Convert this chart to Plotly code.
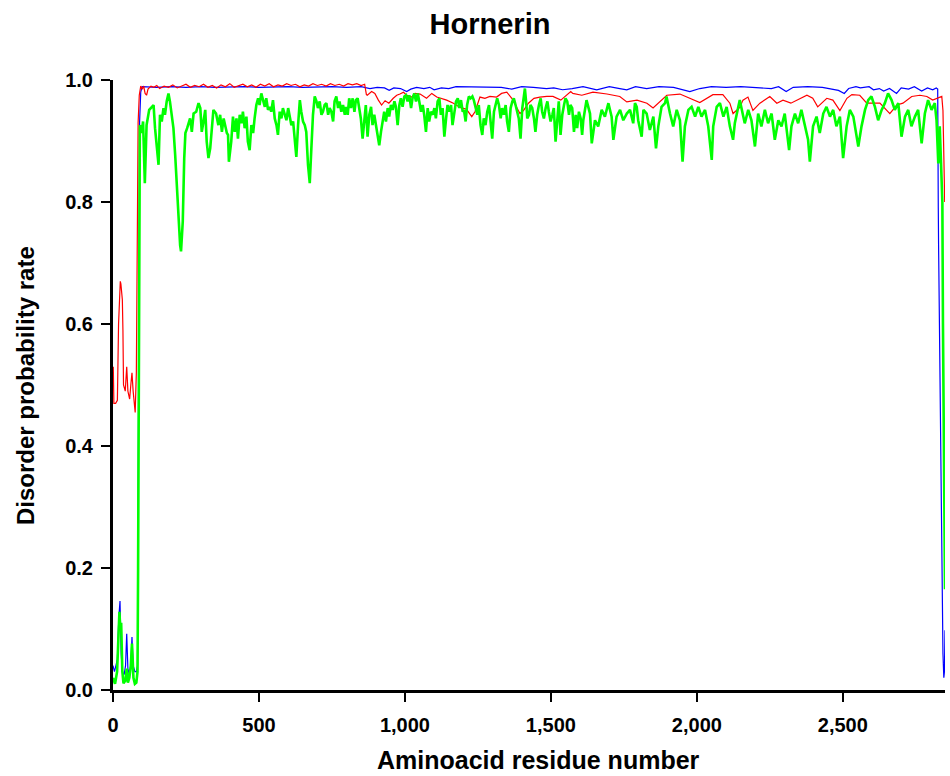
import plotly.graph_objects as go

# ---------------- data ----------------
green_x = [0, 7, 14, 18, 22, 25, 28, 32, 36, 42, 47, 51, 56, 61, 65, 70, 75, 80, 84, 86, 88, 90,
           92, 98, 103, 109, 115, 124, 133, 139, 144, 150, 156, 161, 167, 173, 178, 184, 190, 195,
           201, 207, 213, 218, 224, 230, 233, 239, 244, 248, 254, 264, 270, 276, 285, 293, 299, 304,
           310, 316, 321, 327, 333, 339, 344, 353, 361, 367, 373, 379, 390,
           394, 397, 405, 411, 417, 423, 428, 434, 440, 445, 451, 457, 462, 468, 474, 480, 485, 491,
           497, 502, 508, 514, 520, 525, 531, 537, 542, 548, 554, 560, 565, 571, 577, 582, 588, 594,
           600, 605, 611, 617, 622, 628, 634, 640, 645, 651, 657, 662, 668, 674, 679, 685, 691, 697,
           702, 708, 714, 719, 725, 731, 737, 742, 748, 754, 759, 765, 771, 776, 782, 788, 794,
           798, 804, 809, 815, 821, 827, 832, 838, 844, 849, 855, 861, 866, 872, 878, 884, 889, 895,
           901, 906, 912, 918, 924, 929, 935, 941, 946, 952, 958, 964, 969, 975, 981, 986, 992, 998,
           1004, 1009, 1015, 1021, 1026, 1032, 1038, 1044, 1049, 1055, 1061, 1066, 1072, 1078, 1083,
           1089, 1095, 1101, 1106, 1112, 1118, 1123, 1129, 1135, 1141, 1146, 1152, 1158, 1163, 1169,
           1175, 1181, 1186, 1192, 1198,
           1202, 1208, 1213, 1219, 1225, 1231, 1236, 1242, 1248, 1253, 1259, 1265, 1270, 1276, 1282,
           1288, 1293, 1299, 1305, 1310, 1316, 1322, 1328, 1333, 1339, 1345, 1350, 1356, 1362, 1368,
           1373, 1379, 1385, 1390, 1396, 1402, 1408, 1411, 1417, 1419, 1425, 1430, 1436, 1442, 1447,
           1453, 1459, 1465, 1470, 1476, 1482, 1488, 1493, 1499, 1505, 1510, 1516, 1522, 1527, 1533,
           1539, 1545, 1550, 1556, 1562, 1567, 1573, 1579, 1585, 1590, 1596, 1602, 1607,
           1611, 1622, 1634, 1640, 1651, 1662, 1674, 1685, 1697, 1708, 1714, 1725, 1737, 1748, 1760,
           1771, 1782, 1788, 1794, 1799, 1811, 1817, 1828, 1839, 1851, 1860, 1868, 1879, 1891, 1896,
           1908, 1919, 1931, 1942, 1951, 1959, 1971, 1982, 1994, 2005, 2016, 2028, 2039, 2051, 2056,
           2068, 2079, 2091, 2102, 2113, 2124, 2130, 2142, 2147, 2159, 2164, 2176, 2187, 2199, 2210,
           2221, 2233, 2244, 2256, 2267, 2279, 2290, 2301, 2316, 2324, 2336, 2347, 2358, 2370, 2381,
           2387, 2398, 2410, 2421, 2433, 2444, 2456, 2467, 2478, 2490, 2501, 2513, 2524, 2536, 2553,
           2564, 2576, 2587, 2598, 2610, 2621, 2633, 2644, 2655, 2667, 2678, 2690, 2701, 2713, 2724,
           2735, 2747, 2758, 2770, 2781, 2792, 2804, 2815, 2821, 2827, 2832, 2838, 2841, 2843, 2845,
           2847, 2849, 2850]
green_y = [0.02, 0.01, 0.03, 0.08, 0.128, 0.10, 0.11, 0.03, 0.011, 0.015, 0.035, 0.012, 0.02, 0.04,
           0.076, 0.02, 0.01, 0.012, 0.03, 0.20, 0.60, 0.88,
           0.926, 0.913, 0.932, 0.831, 0.926, 0.951, 0.956, 0.959, 0.921, 0.896, 0.861, 0.943, 0.932,
           0.954, 0.943, 0.965, 0.978, 0.965, 0.943, 0.921, 0.877, 0.828, 0.773, 0.729, 0.719, 0.768,
           0.872, 0.913, 0.921, 0.937, 0.915, 0.945, 0.948, 0.962, 0.954, 0.915, 0.932, 0.951, 0.899,
           0.872, 0.888, 0.932, 0.951, 0.945, 0.926, 0.943, 0.915, 0.937, 0.913,
           0.910, 0.866, 0.899, 0.940, 0.915, 0.937, 0.904, 0.943, 0.929, 0.948, 0.921, 0.940, 0.899,
           0.885, 0.926, 0.913, 0.937, 0.959, 0.970, 0.959, 0.978, 0.965, 0.956, 0.970, 0.951, 0.956,
           0.948, 0.967, 0.937, 0.926, 0.910, 0.948, 0.937, 0.954, 0.945, 0.934, 0.954, 0.943, 0.926,
           0.932, 0.899, 0.874, 0.926, 0.967, 0.948, 0.932, 0.926, 0.915, 0.861, 0.831, 0.883, 0.943,
           0.973, 0.965, 0.954, 0.965, 0.943, 0.948, 0.959, 0.962, 0.943, 0.954, 0.948, 0.932, 0.965,
           0.973, 0.954, 0.965, 0.948, 0.959, 0.943,
           0.956, 0.943, 0.970, 0.954, 0.970, 0.948, 0.967, 0.970, 0.951, 0.937, 0.904, 0.932, 0.959,
           0.907, 0.943, 0.956, 0.926, 0.943, 0.926, 0.907, 0.893, 0.915, 0.937, 0.948, 0.932, 0.954,
           0.940, 0.959, 0.951, 0.965, 0.956, 0.926, 0.959, 0.970, 0.956, 0.973, 0.975, 0.965, 0.975,
           0.954, 0.970, 0.978, 0.965, 0.978, 0.965, 0.948, 0.959, 0.943, 0.915, 0.954, 0.932, 0.948,
           0.943, 0.954, 0.937, 0.965, 0.970, 0.943, 0.954, 0.907, 0.937, 0.959, 0.948, 0.959, 0.926,
           0.948, 0.965, 0.970, 0.954, 0.967, 0.948,
           0.951, 0.932, 0.959, 0.973, 0.970, 0.973, 0.967, 0.954, 0.943, 0.959, 0.926, 0.910, 0.937,
           0.926, 0.948, 0.959, 0.937, 0.904, 0.948, 0.959, 0.970, 0.959, 0.937, 0.954, 0.943, 0.959,
           0.932, 0.915, 0.954, 0.965, 0.970, 0.959, 0.948, 0.937, 0.904, 0.954, 0.975, 0.986, 0.954,
           0.937, 0.943, 0.959, 0.954, 0.937, 0.915, 0.943, 0.959, 0.970, 0.948, 0.937, 0.954, 0.965,
           0.948, 0.932, 0.943, 0.954, 0.899, 0.937, 0.965, 0.910, 0.943, 0.959, 0.970, 0.965, 0.943,
           0.959, 0.954, 0.915, 0.943, 0.921, 0.948, 0.937, 0.910,
           0.934, 0.967, 0.945, 0.896, 0.934, 0.924, 0.951, 0.940, 0.962, 0.940, 0.902, 0.940, 0.951,
           0.934, 0.945, 0.951, 0.929, 0.962, 0.956, 0.934, 0.907, 0.951, 0.945, 0.918, 0.940, 0.888,
           0.924, 0.956, 0.962, 0.973, 0.945, 0.924, 0.951, 0.934, 0.866, 0.924, 0.951, 0.956, 0.940,
           0.956, 0.940, 0.951, 0.924, 0.869, 0.924, 0.956, 0.962, 0.940, 0.956, 0.924, 0.902, 0.929,
           0.956, 0.967, 0.940, 0.929, 0.951, 0.934, 0.891, 0.945, 0.924, 0.951, 0.929, 0.945, 0.902,
           0.934, 0.924, 0.945, 0.885, 0.924, 0.945, 0.929, 0.951, 0.924, 0.902, 0.866, 0.924, 0.940,
           0.913, 0.945, 0.956, 0.940, 0.951, 0.924, 0.940, 0.872, 0.924, 0.951, 0.940, 0.891, 0.924,
           0.951, 0.967, 0.973, 0.956, 0.934, 0.951, 0.962, 0.978, 0.967, 0.951, 0.962, 0.907, 0.940,
           0.951, 0.924, 0.940, 0.951, 0.896, 0.945, 0.967, 0.951, 0.962, 0.934, 0.863, 0.924, 0.853,
           0.80, 0.60, 0.45, 0.35, 0.20, 0.165]

red_x = [1, 3, 9, 15, 19, 22, 25, 27, 29, 32, 34, 36, 42, 47, 51, 57, 61, 65, 69, 76, 80, 83, 86,
         90, 95, 100, 105, 110, 115, 120, 130, 140, 150, 160, 175, 190, 205, 220, 235, 250, 265, 280,
         295, 310, 325, 340, 355, 370, 385, 400, 415, 430, 445, 460, 475, 490, 505, 520, 535, 550,
         565, 580, 595, 610, 625, 640, 655, 670, 685, 700, 715, 730, 745, 760, 775, 790, 805, 820,
         835, 850, 862, 868, 871, 886, 897, 909, 920, 932, 945, 960, 972, 983, 995, 1006, 1023, 1035,
         1052, 1074, 1092, 1109, 1132, 1143, 1166, 1189, 1211, 1229, 1240, 1257, 1274, 1291, 1314,
         1331, 1349, 1366, 1383, 1394, 1406, 1423, 1442, 1462, 1486, 1507, 1534, 1541, 1568, 1575,
         1606, 1644, 1692, 1736, 1760, 1795, 1829, 1850, 1875, 1897, 1942, 1976, 2010, 2055, 2089,
         2113, 2124, 2147, 2158, 2175, 2192, 2216, 2250, 2274, 2295, 2322, 2353, 2377, 2397, 2414,
         2445, 2466, 2490, 2514, 2531, 2558, 2582, 2627, 2661, 2685, 2706, 2736, 2764, 2788, 2808,
         2826, 2839, 2843, 2845, 2847, 2849, 2850]
red_y = [0.53, 0.47, 0.47, 0.475, 0.60, 0.65, 0.67, 0.666, 0.645, 0.64, 0.59, 0.50, 0.49, 0.53, 0.49,
         0.477, 0.50, 0.52, 0.49, 0.455, 0.52, 0.75, 0.93,
         0.975, 0.99, 0.985, 0.99, 0.978, 0.975, 0.985, 0.99, 0.988, 0.991, 0.986, 0.99, 0.988, 0.992,
         0.987, 0.99, 0.993, 0.988, 0.991, 0.989, 0.993, 0.988, 0.991, 0.987, 0.992, 0.989, 0.994,
         0.988, 0.991, 0.993, 0.989, 0.992, 0.988, 0.993, 0.99, 0.994, 0.989, 0.992, 0.99, 0.994,
         0.991, 0.993, 0.989, 0.992, 0.99, 0.994, 0.991, 0.993, 0.99, 0.994, 0.991, 0.993, 0.99,
         0.994, 0.992, 0.994, 0.991, 0.993, 0.976, 0.975, 0.981, 0.978, 0.967, 0.959, 0.966, 0.962,
         0.97, 0.975, 0.977, 0.98, 0.975, 0.972, 0.978, 0.977, 0.97, 0.978, 0.972, 0.969, 0.967,
         0.962, 0.955, 0.952, 0.94, 0.948, 0.972, 0.97, 0.973, 0.972, 0.978, 0.98, 0.97, 0.955, 0.945,
         0.95, 0.962, 0.97, 0.972, 0.973, 0.973, 0.967, 0.97, 0.981, 0.978, 0.975, 0.98, 0.977, 0.973,
         0.964, 0.967, 0.962, 0.954, 0.965, 0.975, 0.977, 0.97, 0.963, 0.976, 0.976, 0.962, 0.945,
         0.955, 0.967, 0.972, 0.95, 0.962, 0.973, 0.962, 0.967, 0.962, 0.97, 0.975, 0.97, 0.956, 0.97,
         0.967, 0.95, 0.97, 0.976, 0.975, 0.962, 0.962, 0.945, 0.959, 0.962, 0.973, 0.975, 0.973,
         0.967, 0.97, 0.973, 0.95, 0.90, 0.84, 0.80, 0.81]

blue_x = [0, 5, 10, 15, 20, 24, 28, 32, 38, 43, 47, 51, 56, 61, 65, 69, 75, 80, 84, 86, 88, 91, 95,
          100, 150, 200, 250, 300, 350, 400, 450, 500, 550, 600, 650, 700, 750, 800, 850, 880, 905,
          930, 946, 962, 985, 1006, 1020, 1040, 1065, 1085, 1100, 1125, 1150, 1175, 1210, 1250, 1290,
          1330, 1366, 1400, 1440, 1485, 1510, 1540, 1573, 1610, 1657, 1700, 1736, 1760, 1790, 1828,
          1870, 1920, 1976, 2010, 2050, 2100, 2150, 2200, 2255, 2280, 2306, 2330, 2380, 2430, 2465,
          2485, 2505, 2520, 2545, 2560, 2590, 2605, 2625, 2640, 2660, 2684, 2700, 2725, 2745, 2770,
          2790, 2808, 2820, 2825, 2827, 2828, 2843, 2846, 2848, 2850]
blue_y = [0.04, 0.03, 0.04, 0.05, 0.12, 0.146, 0.06, 0.03, 0.025, 0.04, 0.092, 0.035, 0.025, 0.04,
          0.087, 0.04, 0.03, 0.03, 0.04, 0.30, 0.70, 0.93, 0.98,
          0.989, 0.988, 0.989, 0.988, 0.989, 0.988, 0.989, 0.989, 0.988, 0.989, 0.989, 0.988, 0.989,
          0.989, 0.988, 0.989, 0.986, 0.988, 0.987, 0.983, 0.987, 0.986, 0.981, 0.985, 0.988, 0.986,
          0.988, 0.984, 0.987, 0.986, 0.989, 0.989, 0.988, 0.989, 0.988, 0.985, 0.989, 0.988, 0.986,
          0.987, 0.984, 0.986, 0.989, 0.984, 0.989, 0.986, 0.984, 0.989, 0.986, 0.989, 0.988, 0.981,
          0.986, 0.989, 0.988, 0.989, 0.988, 0.986, 0.989, 0.981, 0.988, 0.989, 0.988, 0.985, 0.983,
          0.978, 0.986, 0.989, 0.987, 0.989, 0.984, 0.986, 0.982, 0.986, 0.978, 0.987, 0.985, 0.989,
          0.982, 0.987, 0.984, 0.987, 0.985, 0.79, 0.73, 0.06, 0.02, 0.03, 0.098]

x_ticks = [0, 500, 1000, 1500, 2000, 2500]
y_ticks = [0.0, 0.2, 0.4, 0.6, 0.8, 1.0]

FONT = "Arial, Liberation Sans, Helvetica, sans-serif"

fig = go.Figure()
fig.add_trace(go.Scatter(x=blue_x, y=blue_y, mode="lines",
                         line=dict(color="#0000FF", width=1.2), showlegend=False))
fig.add_trace(go.Scatter(x=red_x, y=red_y, mode="lines",
                         line=dict(color="#FF0000", width=1.2), showlegend=False))
fig.add_trace(go.Scatter(x=green_x, y=green_y, mode="lines",
                         line=dict(color="#00FF00", width=2.6), showlegend=False))

fig.update_layout(
    width=950, height=776,
    margin=dict(l=113, r=5, t=80, b=86),
    paper_bgcolor="white", plot_bgcolor="white",
    font=dict(family=FONT, color="black"),
    title=dict(text="<b>Hornerin</b>", x=490 / 950, xanchor="center", y=1 - 24 / 776,
               yanchor="middle", xref="container", yref="container",
               font=dict(size=29, family=FONT, color="black")),
    annotations=[
        dict(text="<b>Aminoacid residue number</b>", xref="paper", yref="paper",
             x=(538 - 113) / 832, y=-(760 - 690) / 610, xanchor="center", yanchor="middle",
             showarrow=False, font=dict(size=25, family=FONT, color="black")),
        dict(text="<b>Disorder probability rate</b>", xref="paper", yref="paper",
             x=-(113 - 25) / 832, y=(690 - 386) / 610, xanchor="center", yanchor="middle",
             textangle=-90, showarrow=False, font=dict(size=24, family=FONT, color="black")),
    ],
)
fig.update_xaxes(
    range=[0, 2850], tickvals=x_ticks, tickformat=",d",
    showline=True, linecolor="black", linewidth=3, mirror=False,
    ticks="outside", ticklen=9, tickwidth=2, tickcolor="black",
    showgrid=False, zeroline=False,
    tickfont=dict(size=20, family=FONT, color="black", weight="bold"),
    ticklabelstandoff=6,
)
fig.update_yaxes(
    range=[0, 1], tickvals=y_ticks, tickformat=".1f",
    showline=True, linecolor="black", linewidth=3, mirror=False,
    ticks="outside", ticklen=9, tickwidth=2, tickcolor="black",
    showgrid=False, zeroline=False,
    tickfont=dict(size=20, family=FONT, color="black", weight="bold"),
    ticklabelstandoff=4,
)

fig.write_html("out.html")
